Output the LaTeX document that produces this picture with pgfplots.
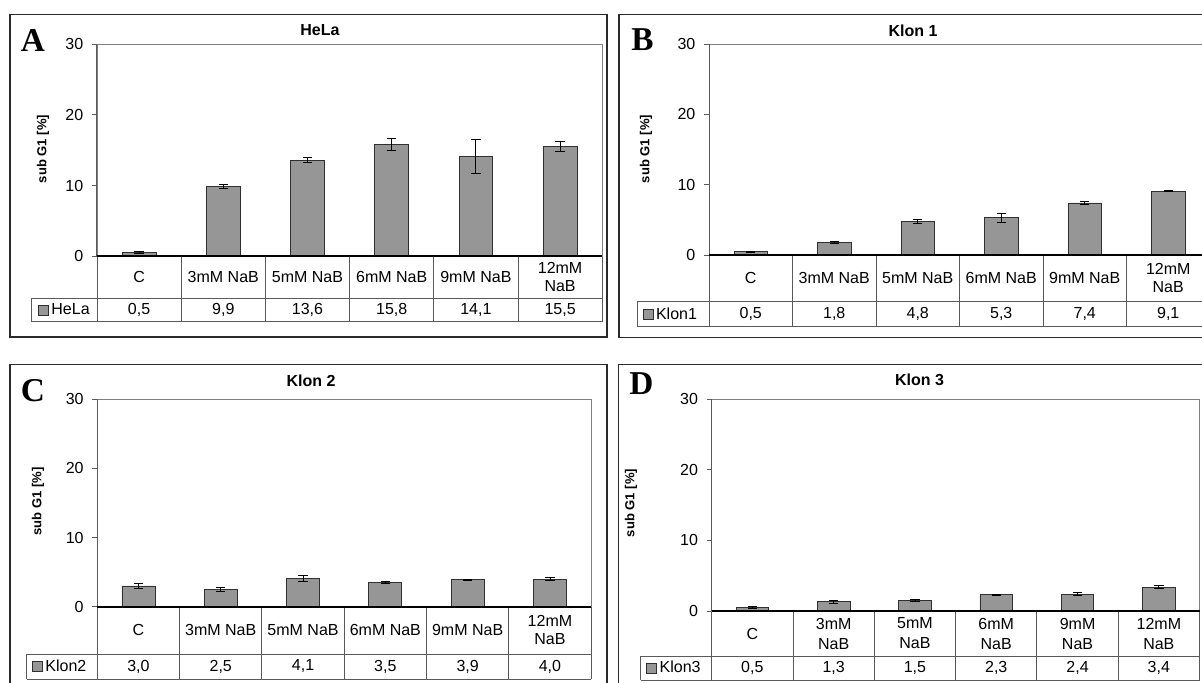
\documentclass[border=0pt]{standalone}
\usepackage{fontspec}
\setmainfont{Liberation Sans}
\newfontfamily\serifbf{Liberation Serif}
\usepackage{pgfplots}
\pgfplotsset{compat=1.18}

\definecolor{barfill}{HTML}{969696}
\definecolor{bardraw}{HTML}{303030}
\definecolor{gridc}{HTML}{5A5A5A}
\definecolor{framec}{HTML}{2A2A2A}

\newcommand\fnt{\fontsize{12}{13.5}\selectfont}

\pgfplotsset{
 panel/.style={
   scale only axis, anchor=south west,
   ybar, bar width=0.4,
   xmin=-0.5, xmax=5.5, ymin=0, ymax=30,
   ytick={0,10,20,30}, ytick pos=left, tick align=outside,
   major tick length=3.75pt,
   xtick={0,...,5}, xtick pos=bottom,
   x tick style={draw=none},
   y tick style={color=gridc, line width=0.6pt},
   axis line style={color=gray, line width=0.6pt},
   /pgf/number format/assume math mode=true,
   yticklabel style={font=\fnt, xshift=-3pt},
   xticklabel style={font=\fnt, anchor=center, align=center},
   clip=false,
   ylabel={sub G1 [\%]},
   ylabel style={font=\fontsize{9.8}{11}\selectfont\bfseries, anchor=center},
   title style={font=\fontsize{12}{14}\selectfont\bfseries, anchor=center, yshift=-6pt},
   legend style={draw=none, fill=none, font=\fnt, anchor=west, inner sep=0pt},
   extra x ticks={0,...,5},
 },
 barstyle/.style={fill=barfill, draw=bardraw, line width=0.6pt,
   legend image code/.code={\draw[fill=barfill,draw=bardraw,line width=0.6pt] (0pt,-3.75pt) rectangle (7.5pt,3.75pt);},
   error bars/.cd, y dir=both, y explicit,
   error bar style={black, line width=0.6pt},
   error mark options={rotate=90, black, mark size=3.5pt, line width=0.6pt}},
}

\begin{document}
\begin{tikzpicture}
\path[use as bounding box] (0,0) rectangle (901.5pt,-511.5pt);
\clip (0,0) rectangle (901.5pt,-511.5pt);

\begin{scope}[x=0.75pt,y=-0.75pt]
% frames
\draw[framec, line width=1pt] (10,14.7) rectangle (607,337);
\draw[framec, line width=1pt] (619,14.7) rectangle (1215,337.3);
\draw[framec, line width=1pt] (10,364.3) rectangle (607,700);
\draw[framec, line width=1pt] (618.3,364.3) rectangle (1215,700);
% panel letters
\node[font=\serifbf\bfseries\fontsize{25}{25}\selectfont, inner sep=0pt] at (33,40) {A};
\node[font=\serifbf\bfseries\fontsize{25}{25}\selectfont, inner sep=0pt] at (642.5,40) {B};
\node[font=\serifbf\bfseries\fontsize{25}{25}\selectfont, inner sep=0pt] at (33,390.8) {C};
\node[font=\serifbf\bfseries\fontsize{25}{25}\selectfont, inner sep=0pt] at (641.5,384) {D};
% table A
\foreach \k in {0,...,6} \draw[gridc, line width=0.75pt] ({97+\k*84.2},256.3) -- ({97+\k*84.2},321.7);
\draw[gridc, line width=0.75pt] (31,298.3) -- (602.2,298.3) (31,321.7) -- (602.2,321.7) (31,298.3) -- (31,321.7);
% table B
\foreach \k in {0,...,6} \draw[gridc, line width=0.75pt] ({709+\k*83.5},255) -- ({709+\k*83.5},326.7);
\draw[gridc, line width=0.75pt] (637,301.7) -- (1210,301.7) (637,326.7) -- (1210,326.7) (637,301.7) -- (637,326.7);
% table C
\foreach \k in {0,...,6} \draw[gridc, line width=0.75pt] ({97.3+\k*82.3},606.7) -- ({97.3+\k*82.3},679);
\draw[gridc, line width=0.75pt] (26.7,654) -- (591.1,654) (26.7,679) -- (591.1,679) (26.7,654) -- (26.7,679);
% table D
\foreach \k in {0,...,6} \draw[gridc, line width=0.75pt] ({711.7+\k*81.3},611) -- ({711.7+\k*81.3},680);
\draw[gridc, line width=0.75pt] (640.7,656) -- (1199.5,656) (640.7,680) -- (1199.5,680) (640.7,656) -- (640.7,680);
\end{scope}

% ---------------- Panel A
\begin{axis}[panel, at={(72.75pt,-192.225pt)}, width=378.9pt, height=159.225pt,
  title={HeLa}, title style={at={(0.4414,1.066)}},
  ylabel style={at={(-0.1069,0.5054)}},
  xticklabels={C,3mM NaB,5mM NaB,6mM NaB,9mM NaB,{12mM\\NaB}},
  xticklabel style={yshift=-12pt},
  extra x tick labels={{0,5},{9,9},{13,6},{15,8},{14,1},{15,5}},
  extra x tick style={grid=none, major tick length=0pt, xticklabel style={yshift=-28.275pt}},
  legend style={at={(-0.1174,-0.2529)}}]
\addplot[barstyle] coordinates {(0,0.5) +- (0,0.15) (1,9.9) +- (0,0.3) (2,13.6) +- (0,0.35) (3,15.8) +- (0,0.9) (4,14.1) +- (0,2.35) (5,15.5) +- (0,0.7)};
\addlegendentry{HeLa}
\draw[gridc, line width=0.75pt] (rel axis cs:0,0) -- (rel axis cs:0,1);
\draw[black, line width=1.4pt] (rel axis cs:0,0) -- (rel axis cs:1,0);
\end{axis}

% ---------------- Panel B
\begin{axis}[panel, at={(531.75pt,-191.25pt)}, width=375.75pt, height=158.25pt,
  title={Klon 1}, title style={at={(0.4072,1.063)}},
  ylabel style={at={(-0.1257,0.5024)}},
  xticklabels={C,3mM NaB,5mM NaB,6mM NaB,9mM NaB,{12mM\\NaB}},
  xticklabel style={yshift=-13.75pt},
  extra x tick labels={{0,5},{1,8},{4,8},{5,3},{7,4},{9,1}},
  extra x tick style={grid=none, major tick length=0pt, xticklabel style={yshift=-30.65pt}},
  legend style={at={(-0.1331,-0.2806)}}]
\addplot[barstyle] coordinates {(0,0.5) +- (0,0.06) (1,1.8) +- (0,0.1) (2,4.8) +- (0,0.24) (3,5.3) +- (0,0.6) (4,7.4) +- (0,0.24) (5,9.1) +- (0,0.12)};
\addlegendentry{Klon1}
\draw[gridc, line width=0.75pt] (rel axis cs:0,0) -- (rel axis cs:0,1);
\draw[black, line width=1.4pt] (rel axis cs:0,0) -- (rel axis cs:1,0);
\end{axis}

% ---------------- Panel C
\begin{axis}[panel, at={(72.975pt,-455.025pt)}, width=370.35pt, height=155.55pt,
  title={Klon 2}, title style={at={(0.4328,1.0916)}},
  ylabel style={at={(-0.1201,0.5063)}},
  xticklabels={C,3mM NaB,5mM NaB,6mM NaB,9mM NaB,{12mM\\NaB}},
  xticklabel style={yshift=-13.99pt},
  extra x tick labels={{3,0},{2,5},{4,1},{3,5},{3,9},{4,0}},
  extra x tick style={grid=none, major tick length=0pt, xticklabel style={yshift=-30.86pt}},
  legend style={at={(-0.1328,-0.2883)}}]
\addplot[barstyle] coordinates {(0,3.0) +- (0,0.3) (1,2.5) +- (0,0.3) (2,4.1) +- (0,0.38) (3,3.5) +- (0,0.17) (4,3.9) +- (0,0.1) (5,4.0) +- (0,0.17)};
\addlegendentry{Klon2}
\draw[gridc, line width=0.75pt] (rel axis cs:0,0) -- (rel axis cs:0,1);
\draw[black, line width=1.4pt] (rel axis cs:0,0) -- (rel axis cs:1,0);
\end{axis}

% ---------------- Panel D
\begin{axis}[panel, at={(533.775pt,-458.25pt)}, width=365.85pt, height=158.775pt,
  title={Klon 3}, title style={at={(0.4262,1.0935)}},
  ylabel style={at={(-0.1654,0.5102)}},
  xticklabels={C,{3mM\\NaB},{5mM\\NaB},{6mM\\NaB},{9mM\\NaB},{12mM\\NaB}},
  xticklabel style={yshift=-13.125pt, font=\fontsize{12}{15}\selectfont},
  extra x tick labels={{0,5},{1,3},{1,5},{2,3},{2,4},{3,4}},
  extra x tick style={grid=none, major tick length=0pt, xticklabel style={yshift=-29.625pt}},
  legend style={at={(-0.1347,-0.2692)}}]
\addplot[barstyle] coordinates {(0,0.5) +- (0,0.15) (1,1.3) +- (0,0.26) (2,1.5) +- (0,0.12) (3,2.3) +- (0,0.12) (4,2.4) +- (0,0.18) (5,3.4) +- (0,0.17)};
\addlegendentry{Klon3}
\draw[gridc, line width=0.75pt] (rel axis cs:0,0) -- (rel axis cs:0,1);
\draw[black, line width=1.4pt] (rel axis cs:0,0) -- (rel axis cs:1,0);
\end{axis}
\end{tikzpicture}
\end{document}
